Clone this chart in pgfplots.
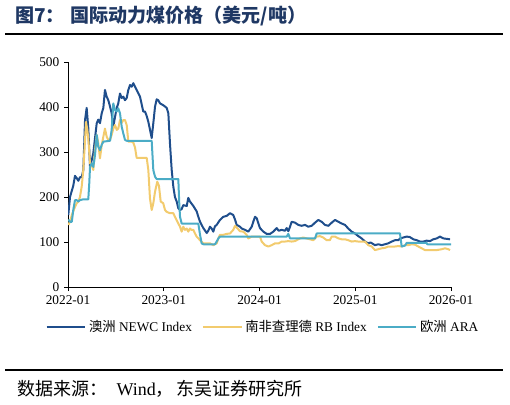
\documentclass[border=0pt]{standalone}
\usepackage{pgfplots}
\pgfplotsset{compat=1.18}
\usepackage{fontspec}
\setmainfont{Liberation Serif}
\newfontfamily\cjk{Noto Sans CJK SC}
\definecolor{newc}{HTML}{1F4E8C}
\definecolor{rb}{HTML}{F2CB6E}
\definecolor{ara}{HTML}{4BACC6}
\definecolor{titleblue}{HTML}{1F3864}
\begin{document}
\begin{tikzpicture}
\path[use as bounding box] (0pt,0pt) rectangle (382.5pt,303pt);
\node[anchor=west, text=titleblue, font=\fontsize{14.3}{16}\selectfont\cjk\bfseries, inner sep=0pt] at (11.25pt,291pt) {图7：\hspace{4pt}国际动力煤价格（美元/吨）};
\draw[line width=1.5pt] (3.75pt,277.5pt) -- (377.25pt,277.5pt);
\begin{axis}[
  at={(51pt,87.75pt)}, anchor=south west,
  scale only axis, width=287.25pt, height=168.75pt,
  xmin=2022, xmax=2026, ymin=0, ymax=500,
  axis x line*=bottom, axis y line*=left,
  axis line style={black, line width=0.6pt},
  xtick={2022,2023,2024,2025,2026},
  xticklabels={2022-01,2023-01,2024-01,2025-01,2026-01},
  ytick={0,100,200,300,400,500},
  tick align=outside, major tick length=3pt,
  tick style={black, line width=0.6pt},
  ticklabel style={font=\fontsize{10}{12}\selectfont},
  /pgf/number format/assume math mode=true,
  legend style={at={(0.51,-0.176)}, anchor=center, draw=none, fill=none,
    legend columns=3, font=\fontsize{10}{12}\selectfont,
    /tikz/every even column/.append style={column sep=5.5pt}},
  legend image code/.code={\draw[#1] (0pt,0pt) -- (29pt,0pt);},
  every axis plot/.append style={line width=1.5pt, line join=round},
]
\addplot[newc] coordinates {
(2022.003,160)(2022.021,200)(2022.055,225)(2022.073,247)(2022.091,242)(2022.108,236)
(2022.125,244)(2022.143,244)(2022.160,260)(2022.178,371)(2022.195,398)(2022.212,353)
(2022.230,267)(2022.248,282)(2022.264,297)(2022.300,364)(2022.316,372)(2022.334,364)
(2022.352,386)(2022.369,398)(2022.386,438)(2022.404,423)(2022.421,415)(2022.439,401)
(2022.456,386)(2022.473,356)(2022.491,378)(2022.509,398)(2022.525,408)(2022.543,430)
(2022.561,420)(2022.578,423)(2022.595,415)(2022.613,420)(2022.630,438)(2022.648,449)
(2022.665,445)(2022.682,453)(2022.700,445)(2022.717,438)(2022.752,423)(2022.786,390)
(2022.804,390)(2022.822,380)(2022.839,367)(2022.856,350)(2022.874,331)(2022.891,364)
(2022.909,401)(2022.926,417)(2022.943,415)(2022.961,408)(2022.995,404)(2023.031,398)
(2023.048,386)(2023.065,319)(2023.083,260)(2023.100,223)(2023.117,200)(2023.135,190)
(2023.152,175)(2023.170,171)(2023.187,173)(2023.204,182)(2023.240,180)(2023.256,198)
(2023.274,190)(2023.309,180)(2023.344,168)(2023.361,156)(2023.379,145)(2023.413,131)
(2023.449,120)(2023.465,125)(2023.483,134)(2023.500,130)(2023.517,123)(2023.535,135)
(2023.553,138)(2023.587,149)(2023.622,156)(2023.657,158)(2023.692,164)(2023.726,160)
(2023.744,150)(2023.762,138)(2023.796,134)(2023.814,130)(2023.849,127)(2023.883,123)
(2023.919,134)(2023.935,145)(2023.953,156)(2023.971,153)(2023.987,142)(2024.005,131)
(2024.040,123)(2024.075,118)(2024.110,118)(2024.144,123)(2024.180,131)(2024.200,125)
(2024.232,127)(2024.266,125)(2024.284,131)(2024.301,124)(2024.319,134)(2024.336,145)
(2024.371,143)(2024.405,138)(2024.440,136)(2024.475,138)(2024.510,134)(2024.545,136)
(2024.580,143)(2024.614,149)(2024.649,145)(2024.684,138)(2024.720,136)(2024.754,143)
(2024.789,149)(2024.823,145)(2024.859,141)(2024.893,138)(2024.927,130)(2024.963,123)
(2024.997,119)(2025.032,113)(2025.067,108)(2025.102,101)(2025.136,97)(2025.160,99)
(2025.206,93)(2025.241,95)(2025.276,93)(2025.311,95)(2025.345,97)(2025.381,101)
(2025.415,104)(2025.450,104)(2025.470,108)(2025.502,110)(2025.537,112)(2025.570,111)
(2025.607,106)(2025.642,104)(2025.676,101)(2025.710,101)(2025.746,103)(2025.780,102)
(2025.815,106)(2025.851,108)(2025.885,112)(2025.920,108)(2025.955,107)(2025.990,106)
};
\addlegendentry{{\cjk 澳洲} NEWC Index}
\addplot[rb] coordinates {
(2022.003,138)(2022.021,145)(2022.040,160)(2022.073,178)(2022.091,186)(2022.108,190)
(2022.125,200)(2022.143,223)(2022.160,260)(2022.178,327)(2022.188,367)(2022.202,349)
(2022.212,330)(2022.230,275)(2022.248,271)(2022.264,260)(2022.282,304)(2022.300,338)
(2022.316,320)(2022.334,286)(2022.352,315)(2022.369,334)(2022.386,352)(2022.404,334)
(2022.421,327)(2022.439,327)(2022.456,338)(2022.473,352)(2022.491,360)(2022.509,349)
(2022.525,352)(2022.543,371)(2022.561,365)(2022.578,371)(2022.595,371)(2022.613,360)
(2022.630,323)(2022.665,323)(2022.682,321)(2022.700,310)(2022.717,287)(2022.822,287)
(2022.839,260)(2022.856,197)(2022.874,171)(2022.891,186)(2022.909,212)(2022.932,234)
(2022.950,225)(2022.968,190)(2022.995,186)(2023.013,171)(2023.031,167)(2023.065,164)
(2023.100,164)(2023.117,156)(2023.152,141)(2023.170,134)(2023.187,123)(2023.204,134)
(2023.222,127)(2023.240,130)(2023.256,123)(2023.274,130)(2023.290,127)(2023.309,127)
(2023.326,119)(2023.344,112)(2023.379,104)(2023.413,97)(2023.449,97)(2023.483,97)
(2023.517,93)(2023.553,97)(2023.570,108)(2023.587,116)(2023.622,116)(2023.657,118)
(2023.692,119)(2023.726,127)(2023.744,136)(2023.762,132)(2023.796,124)(2023.831,123)
(2023.866,116)(2023.883,108)(2023.919,112)(2024.005,112)(2024.023,101)(2024.057,93)
(2024.092,90)(2024.128,93)(2024.162,97)(2024.200,97)(2024.232,101)(2024.266,101)
(2024.301,102)(2024.336,101)(2024.371,102)(2024.388,104)(2024.423,108)(2024.457,110)
(2024.490,108)(2024.527,106)(2024.562,104)(2024.597,112)(2024.632,113)(2024.665,110)
(2024.702,104)(2024.735,104)(2024.754,112)(2024.789,112)(2024.823,108)(2024.859,106)
(2024.893,106)(2024.927,104)(2024.963,101)(2024.997,102)(2025.032,101)(2025.067,101)
(2025.102,101)(2025.136,93)(2025.172,90)(2025.206,82)(2025.241,84)(2025.276,86)
(2025.311,87)(2025.345,90)(2025.381,90)(2025.415,90)(2025.450,91)(2025.485,90)
(2025.520,93)(2025.555,93)(2025.590,95)(2025.625,94)(2025.658,90)(2025.694,86)
(2025.728,82)(2025.798,82)(2025.851,82)(2025.905,84)(2025.937,86)(2025.972,84)
(2025.990,82)
};
\addlegendentry{{\cjk 南非查理德} RB Index}
\addplot[ara] coordinates {
(2022.003,150)(2022.021,145)(2022.040,145)(2022.055,171)(2022.073,193)(2022.091,193)
(2022.108,190)(2022.125,193)(2022.160,195)(2022.212,195)(2022.222,230)(2022.230,267)
(2022.248,275)(2022.264,267)(2022.282,293)(2022.300,338)(2022.316,312)(2022.334,304)
(2022.352,316)(2022.369,323)(2022.439,325)(2022.456,349)(2022.473,408)(2022.491,393)
(2022.509,390)(2022.525,397)(2022.543,386)(2022.561,356)(2022.578,341)(2022.595,327)
(2022.613,325)(2022.874,325)(2022.891,260)(2022.909,245)(2022.926,240)(2023.152,240)
(2023.162,186)(2023.170,156)(2023.187,141)(2023.361,141)(2023.379,116)(2023.396,97)
(2023.413,95)(2023.535,95)(2023.553,101)(2023.570,108)(2023.587,112)(2024.284,112)
(2024.301,118)(2024.319,108)(2024.580,108)(2024.597,119)(2025.467,119)(2025.485,90)
(2025.520,92)(2025.537,98)(2025.746,98)(2025.752,95)(2026.000,95)
};
\addlegendentry{{\cjk 欧洲} ARA}
\end{axis}
\draw[line width=1.5pt] (3.75pt,25.5pt) -- (377.25pt,25.5pt);
\node[anchor=west, font=\fontsize{13.5}{16}\selectfont, inner sep=0pt] at (12.75pt,11.25pt) {{\cjk 数据来源：}\hspace{7pt}Wind{\cjk ，}\hspace{2pt}{\cjk 东吴证券研究所}};
\end{tikzpicture}
\end{document}
